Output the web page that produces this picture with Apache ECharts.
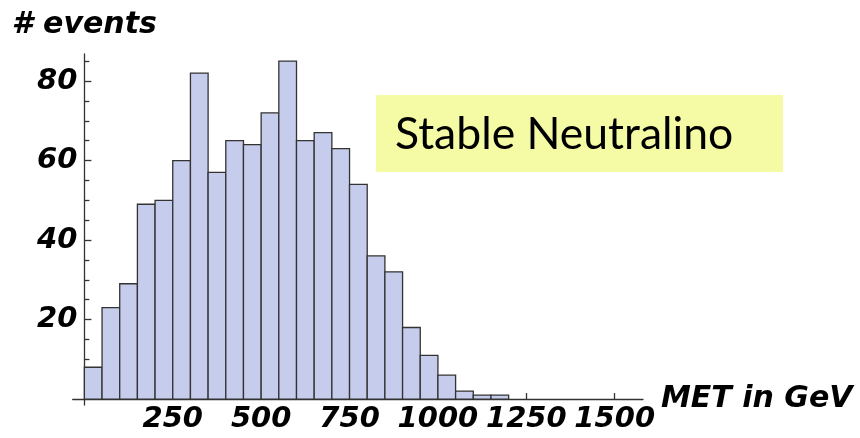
<!DOCTYPE html>
<html>
<head>
<meta charset="utf-8">
<script src="https://cdn.jsdelivr.net/npm/echarts@6/dist/echarts.min.js"></script>
<style>
html,body{margin:0;padding:0;background:#fff;}
#chart{width:860px;height:438px;}
</style>
</head>
<body>
<div id="chart"></div>
<script>
// Histogram data (MET in GeV, bins of 50 GeV)
const binLower = [0, 50, 100, 150, 200, 250, 300, 350, 400, 450, 500, 550, 600, 650, 700, 750, 800, 850, 900, 950, 1000, 1050, 1100, 1150];
const binWidth = 50;
const counts = [8, 23, 29, 49, 50, 60, 82, 57, 65, 64, 72, 85, 65, 67, 63, 54, 36, 32, 18, 11, 6, 2, 1, 1];
const xTickValues = [250, 500, 750, 1000, 1250, 1500];
const yTickValues = [20, 40, 60, 80];
const yMinorTickValues = [5, 10, 15, 25, 30, 35, 45, 50, 55, 65, 70, 75, 85];
const xAxisTitle = 'MET in GeV';
const yAxisTitle = '# events';
const boxLabel = 'Stable Neutralino';

const chart = echarts.init(document.getElementById('chart'), null, {renderer: 'canvas'});

const axisFont = {
  fontFamily: 'DejaVu Sans',
  fontStyle: 'italic',
  fontWeight: 'bold',
  fontSize: 30,
  color: '#000'
};
const tickFont = {
  fontFamily: 'DejaVu Sans',
  fontStyle: 'italic',
  fontWeight: 'bold',
  fontSize: 29,
  color: '#000'
};
const lineStyle = {color: '#333', width: 1.3};

const X_MIN = -33, X_MAX = 1580, Y_MIN = -1.5, Y_MAX = 86.8;
const G_LEFT = 72.7, G_RIGHT = 217, G_TOP = 54, G_BOTTOM = 33;
// shift axes so they cross at the origin (as in the reference)
const plotW = 860 - G_LEFT - G_RIGHT, plotH = 438 - G_TOP - G_BOTTOM;
const yAxisOffset = -(0 - X_MIN) / (X_MAX - X_MIN) * plotW;
const xAxisOffset = -(0 - Y_MIN) / (Y_MAX - Y_MIN) * plotH;

const option = {
  animation: false,
  backgroundColor: '#fff',
  grid: {left: G_LEFT, right: G_RIGHT, top: G_TOP, bottom: G_BOTTOM, containLabel: false},
  xAxis: {
    type: 'value',
    min: X_MIN,
    max: X_MAX,
    offset: xAxisOffset,
    name: xAxisTitle,
    nameLocation: 'end',
    nameGap: 14,
    nameTextStyle: Object.assign({}, axisFont, {padding: [0, 0, 4, 0]}),
    axisLine: {show: true, onZero: false, lineStyle: lineStyle},
    axisTick: {show: true, inside: true, length: 6, customValues: xTickValues, lineStyle: lineStyle},
    axisLabel: Object.assign({show: true, margin: 6, customValues: xTickValues, formatter: v => String(v)}, tickFont),
    splitLine: {show: false}
  },
  yAxis: [{
    type: 'value',
    min: Y_MIN,
    max: Y_MAX,
    offset: yAxisOffset,
    name: yAxisTitle,
    nameLocation: 'end',
    nameGap: 14,
    nameTextStyle: Object.assign({}, axisFont, {align: 'center'}),
    axisLine: {show: true, onZero: false, lineStyle: lineStyle},
    axisTick: {show: true, inside: true, length: 7, customValues: yTickValues, lineStyle: lineStyle},
    axisLabel: Object.assign({show: true, margin: 7, customValues: yTickValues, formatter: v => String(v)}, tickFont),
    splitLine: {show: false}
  }, {
    type: 'value',
    min: Y_MIN,
    max: Y_MAX,
    position: 'left',
    offset: yAxisOffset,
    axisLine: {show: false, onZero: false},
    axisTick: {show: true, inside: true, length: 5, customValues: yMinorTickValues, lineStyle: lineStyle},
    axisLabel: {show: false},
    splitLine: {show: false}
  }],
  series: [{
    type: 'custom',
    xAxisIndex: 0,
    yAxisIndex: 0,
    data: binLower.map((lo, i) => [lo, lo + binWidth, counts[i]]),
    encode: {x: [0, 1], y: 2},
    renderItem: function (params, api) {
      const p0 = api.coord([api.value(0), 0]);
      const p1 = api.coord([api.value(1), api.value(2)]);
      return {
        type: 'rect',
        shape: {x: p0[0], y: p1[1], width: p1[0] - p0[0], height: p0[1] - p1[1]},
        style: {fill: '#c6cceb', stroke: '#333', lineWidth: 1.3}
      };
    },
    z: 1
  }],
  graphic: [{
    type: 'rect',
    left: 376,
    top: 95,
    shape: {width: 407, height: 77},
    style: {fill: '#f5fba5'},
    z: 10
  }, {
    type: 'text',
    left: 395,
    top: 112,
    style: {
      text: boxLabel,
      font: '44.5px Lato',
      fill: '#000'
    },
    z: 11
  }]
};
chart.setOption(option);
</script>
</body>
</html>
